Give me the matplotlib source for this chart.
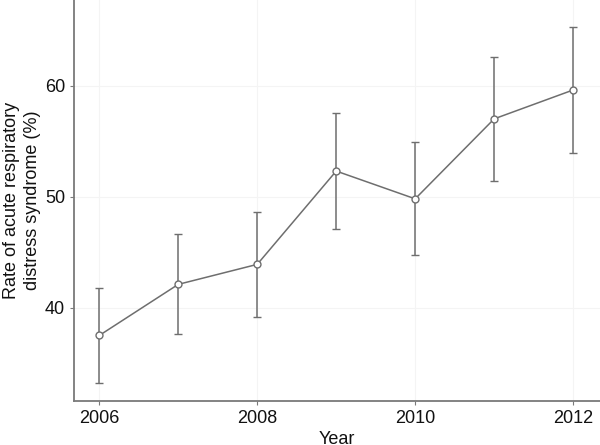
import numpy as np
import matplotlib.pyplot as plt

plt.rcParams['font.family'] = ['Liberation Sans', 'DejaVu Sans']

# rate of ARDS by year, with 95% CI
years = [2006, 2007, 2008, 2009, 2010, 2011, 2012]
rate = [37.5, 42.1, 43.9, 52.3, 49.8, 57.0, 59.6]
lower = [33.2, 37.6, 39.2, 47.1, 44.7, 51.4, 53.9]
upper = [41.8, 46.6, 48.6, 57.5, 54.9, 62.6, 65.3]

rate = np.array(rate)
yerr = [rate - np.array(lower), np.array(upper) - rate]

fig = plt.figure(figsize=(6, 4.45), dpi=100)
ax = fig.add_axes([74 / 600, 44 / 445, 526 / 600, 401 / 445])

ax.errorbar(years, rate, yerr=yerr, color='#6e6e6e', lw=1.1, capsize=3,
            capthick=1.1, marker='o', ms=5, mfc='white', mec='#6e6e6e',
            mew=1.0, zorder=3)

ax.set_xlim(2005.68, 2012.34)
ax.set_ylim(31.6, 67.7)
ax.set_xticks([2006, 2008, 2010, 2012])
ax.set_yticks([40, 50, 60])
ax.grid(True, color='#f4f4f4', lw=0.8)
ax.set_axisbelow(True)

for s in ['top', 'right']:
    ax.spines[s].set_visible(False)
for s in ['left', 'bottom']:
    ax.spines[s].set_color('#7a7a7a')
    ax.spines[s].set_linewidth(1.3)

ax.tick_params(colors='#7a7a7a', labelcolor='#111111', labelsize=13, length=3)
ax.set_xlabel('Year', fontsize=13, color='#111111', labelpad=3)
ax.set_ylabel('Rate of acute respiratory\ndistress syndrome (%)', fontsize=13,
              color='#111111', linespacing=1.3, va='center')
ax.yaxis.set_label_coords(-52 / 526, 0.5)

fig.savefig('out.png', dpi=100)
